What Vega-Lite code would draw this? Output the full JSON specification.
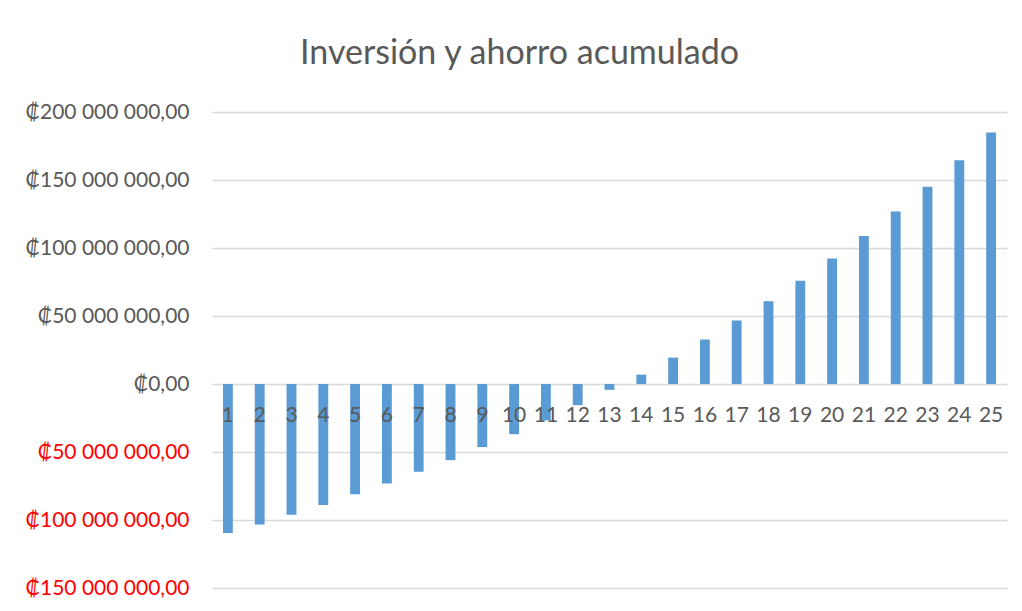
{
  "$schema": "https://vega.github.io/schema/vega-lite/v6.json",
  "width": 795,
  "height": 476,
  "autosize": "none",
  "padding": {"left": 212, "top": 112, "right": 15, "bottom": 23},
  "background": "white",
  "title": {
    "text": "Inversión y ahorro acumulado",
    "font": "Lato",
    "fontSize": 34,
    "fontWeight": "normal",
    "color": "#595959",
    "anchor": "middle",
    "dx": -90,
    "baseline": "alphabetic",
    "offset": 3
  },
  "data": {
    "values": [
      {"periodo": 1, "monto": -109500000},
      {"periodo": 2, "monto": -103400000},
      {"periodo": 3, "monto": -96200000},
      {"periodo": 4, "monto": -88900000},
      {"periodo": 5, "monto": -81000000},
      {"periodo": 6, "monto": -73200000},
      {"periodo": 7, "monto": -64600000},
      {"periodo": 8, "monto": -56000000},
      {"periodo": 9, "monto": -46400000},
      {"periodo": 10, "monto": -36900000},
      {"periodo": 11, "monto": -26800000},
      {"periodo": 12, "monto": -15600000},
      {"periodo": 13, "monto": -4300000},
      {"periodo": 14, "monto": 6900000},
      {"periodo": 15, "monto": 19400000},
      {"periodo": 16, "monto": 32700000},
      {"periodo": 17, "monto": 46700000},
      {"periodo": 18, "monto": 60900000},
      {"periodo": 19, "monto": 75900000},
      {"periodo": 20, "monto": 92200000},
      {"periodo": 21, "monto": 108900000},
      {"periodo": 22, "monto": 126800000},
      {"periodo": 23, "monto": 145000000},
      {"periodo": 24, "monto": 164500000},
      {"periodo": 25, "monto": 184900000}
    ]
  },
  "mark": {"type": "bar", "color": "#5B9BD5"},
  "encoding": {
    "x": {
      "field": "periodo",
      "type": "ordinal",
      "scale": {"paddingInner": 0.69, "paddingOuter": 0.345},
      "axis": {
        "title": null,
        "orient": "bottom",
        "offset": -204,
        "labelAngle": 0,
        "ticks": false,
        "domain": false,
        "labelPadding": 20,
        "labelFont": "Lato",
        "labelFontSize": 21,
        "labelColor": "#595959",
        "zindex": 1
      }
    },
    "y": {
      "field": "monto",
      "type": "quantitative",
      "scale": {"domain": [-150000000, 200000000], "nice": false, "zero": false},
      "axis": {
        "title": null,
        "values": [-150000000, -100000000, -50000000, 0, 50000000, 100000000, 150000000, 200000000],
        "labelExpr": "'₡' + replace(replace(format(abs(datum.value), ',.2f'), /,/g, ' '), '.', ',')",
        "labelColor": {"condition": {"test": "datum.value < 0", "value": "#FF0000"}, "value": "#595959"},
        "labelFont": "Lato",
        "labelFontSize": 21,
        "labelPadding": 23,
        "ticks": false,
        "domain": false,
        "grid": true,
        "gridColor": "#D9D9D9",
        "gridWidth": 1.3
      }
    }
  },
  "config": {"view": {"stroke": null}}
}
